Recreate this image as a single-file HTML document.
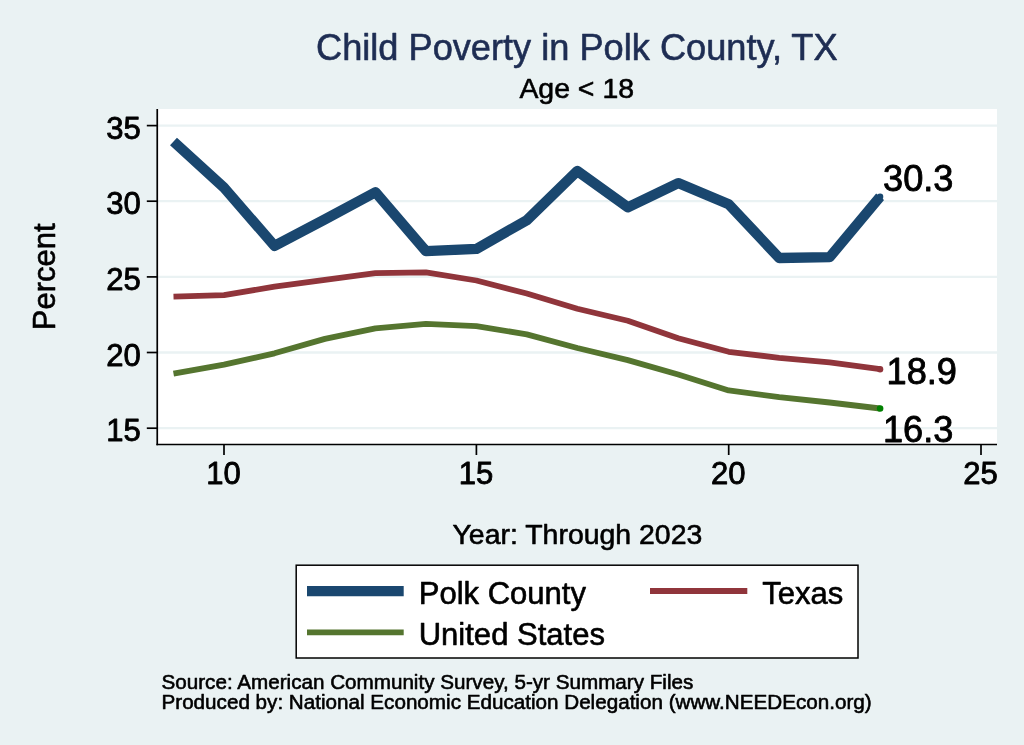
<!DOCTYPE html>
<html lang="en">
<head>
<meta charset="utf-8">
<title>Child Poverty in Polk County, TX</title>
<style>
html,body{margin:0;padding:0;background:#EAF2F3;}
body{width:1024px;height:745px;overflow:hidden;}
svg{display:block;}
text{font-family:"Liberation Sans",Arial,Helvetica,sans-serif;fill:#000;stroke:#000;stroke-width:0.6px;stroke-linejoin:round;}
#title{stroke:#1E2D53;}
#xlab text,#ylab text,#l1,#l2,#l3{stroke-width:0.85px;}
</style>
</head>
<body>
<svg width="1024" height="745" viewBox="0 0 1024 745">
<rect width="1024" height="745" fill="#EAF2F3"/>
<rect x="158" y="109" width="839" height="335.5" fill="#FFFFFF"/>
<g stroke="#EAF2F3" stroke-width="2.3" fill="none"><line x1="158" x2="997" y1="428.2" y2="428.2"/><line x1="158" x2="997" y1="352.5" y2="352.5"/><line x1="158" x2="997" y1="276.9" y2="276.9"/><line x1="158" x2="997" y1="201.2" y2="201.2"/><line x1="158" x2="997" y1="125.6" y2="125.6"/></g>
<g fill="none" stroke-linejoin="round" stroke-linecap="butt">
<polyline stroke="#1A476F" stroke-width="10.3" points="173.5,141.5 224.0,187.6 274.5,245.9 324.9,219.4 375.4,192.2 425.9,251.2 476.4,248.9 526.8,220.2 577.3,171.0 627.8,207.3 678.2,183.1 728.7,204.3 779.2,258.0 829.6,257.2 880.1,196.7"/>
<polyline stroke="#90353B" stroke-width="5.8" points="173.5,296.6 224.0,295.1 274.5,286.7 324.9,279.9 375.4,273.1 425.9,272.4 476.4,280.5 526.8,293.5 577.3,308.7 627.8,320.8 678.2,338.2 728.7,351.8 779.2,357.8 829.6,362.4 880.1,369.2"/>
<polyline stroke="#55752F" stroke-width="5.8" points="173.5,373.7 224.0,364.7 274.5,353.3 324.9,338.9 375.4,328.3 425.9,323.8 476.4,326.1 526.8,334.4 577.3,348.0 627.8,360.1 678.2,374.5 728.7,390.4 779.2,397.2 829.6,402.5 880.1,408.5"/>
</g>
<circle cx="880.1" cy="196.7" r="3.2" fill="#1A476F"/>
<circle cx="880.1" cy="369.2" r="3.2" fill="#90353B"/>
<circle cx="880.1" cy="408.5" r="3.3" fill="#008000"/>
<g stroke="#000" stroke-width="1.7" fill="none">
<line x1="157.25" x2="157.25" y1="109" y2="445.3"/>
<line x1="156.4" x2="997" y1="444.5" y2="444.5"/>
<line x1="146.8" x2="157" y1="428.2" y2="428.2"/><line x1="146.8" x2="157" y1="352.5" y2="352.5"/><line x1="146.8" x2="157" y1="276.9" y2="276.9"/><line x1="146.8" x2="157" y1="201.2" y2="201.2"/><line x1="146.8" x2="157" y1="125.6" y2="125.6"/>
<line x1="224.0" x2="224.0" y1="445" y2="455"/><line x1="476.4" x2="476.4" y1="445" y2="455"/><line x1="728.7" x2="728.7" y1="445" y2="455"/><line x1="981.0" x2="981.0" y1="445" y2="455"/>
</g>
<g font-size="36.2px">
<text id="l1" x="883" y="191">30.3</text>
<text id="l2" x="886.5" y="384.2">18.9</text>
<text id="l3" x="882.9" y="442.3">16.3</text>
</g>
<g font-size="31.04px" id="ylab"><text x="140.8" y="441.2" text-anchor="end">15</text><text x="140.8" y="365.5" text-anchor="end">20</text><text x="140.8" y="289.9" text-anchor="end">25</text><text x="140.8" y="214.2" text-anchor="end">30</text><text x="140.8" y="138.6" text-anchor="end">35</text></g>
<g font-size="31.04px" id="xlab"><text x="223.6" y="484" text-anchor="middle">10</text><text x="476.0" y="484" text-anchor="middle">15</text><text x="728.3" y="484" text-anchor="middle">20</text><text x="980.6" y="484" text-anchor="middle">25</text></g>
<text id="title" x="576.8" y="59.5" font-size="36.2px" text-anchor="middle" style="fill:#1E2D53">Child Poverty in Polk County, TX</text>
<text id="sub" x="576.7" y="98.4" font-size="28.45px" text-anchor="middle">Age &lt; 18</text>
<text id="ytitle" transform="translate(55.4,276.8) rotate(-90)" font-size="31.04px" text-anchor="middle">Percent</text>
<text id="xtitle" x="577.4" y="543.9" font-size="28.45px" text-anchor="middle">Year: Through 2023</text>
<rect x="296.2" y="565.2" width="561.8" height="92.8" fill="#FFFFFF" stroke="#000" stroke-width="1.5"/>
<line x1="307" x2="403.7" y1="591.1" y2="591.1" stroke="#1A476F" stroke-width="10.3"/>
<line x1="650" x2="747.3" y1="591" y2="591" stroke="#90353B" stroke-width="5.8"/>
<line x1="307" x2="403.7" y1="632.4" y2="632.4" stroke="#55752F" stroke-width="5.8"/>
<g font-size="31.04px">
<text id="k1" x="418.7" y="603.8">Polk County</text>
<text id="k2" x="762.3" y="603.8">Texas</text>
<text id="k3" x="418.7" y="645">United States</text>
</g>
<g font-size="20.65px">
<text id="n1" x="161.5" y="688.5">Source: American Community Survey, 5-yr Summary Files</text>
<text id="n2" x="161.5" y="708.5">Produced by: National Economic Education Delegation (www.NEEDEcon.org)</text>
</g>
</svg>
</body>
</html>
